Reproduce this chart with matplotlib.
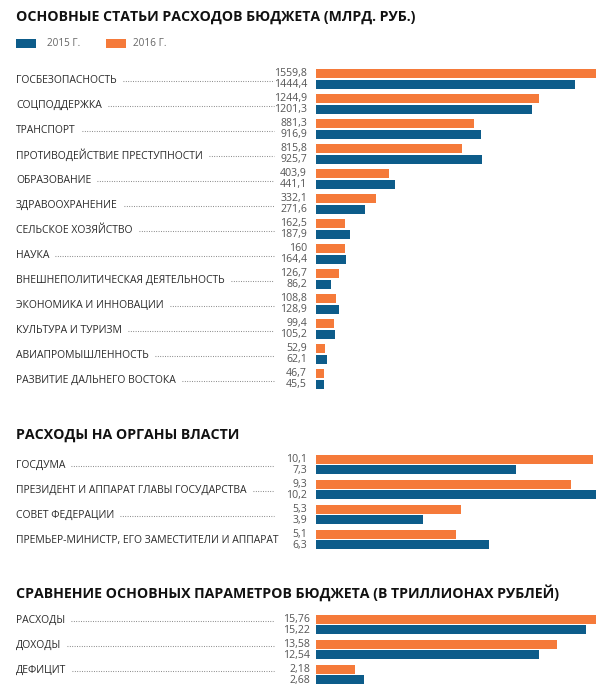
import matplotlib
matplotlib.use("Agg")
import matplotlib.pyplot as plt
import matplotlib.transforms as mtransforms
from matplotlib.lines import Line2D
from matplotlib.patches import Rectangle

W, H = 612, 691
DPI = 100

ORANGE = "#F57A3A"
BLUE = "#0D5C8A"
FONT = "Open Sans"

title1 = "ОСНОВНЫЕ СТАТЬИ РАСХОДОВ БЮДЖЕТА (МЛРД. РУБ.)"
title2 = "РАСХОДЫ НА ОРГАНЫ ВЛАСТИ"
title3 = "СРАВНЕНИЕ ОСНОВНЫХ ПАРАМЕТРОВ БЮДЖЕТА (В ТРИЛЛИОНАХ РУБЛЕЙ)"
legend_labels = ["2015 Г.", "2016 Г."]

cats1 = ["ГОСБЕЗОПАСНОСТЬ", "СОЦПОДДЕРЖКА", "ТРАНСПОРТ", "ПРОТИВОДЕЙСТВИЕ ПРЕСТУПНОСТИ",
         "ОБРАЗОВАНИЕ", "ЗДРАВООХРАНЕНИЕ", "СЕЛЬСКОЕ ХОЗЯЙСТВО", "НАУКА",
         "ВНЕШНЕПОЛИТИЧЕСКАЯ ДЕЯТЕЛЬНОСТЬ", "ЭКОНОМИКА И ИННОВАЦИИ", "КУЛЬТУРА И ТУРИЗМ",
         "АВИАПРОМЫШЛЕННОСТЬ", "РАЗВИТИЕ ДАЛЬНЕГО ВОСТОКА"]
v2016_1 = [1559.8, 1244.9, 881.3, 815.8, 403.9, 332.1, 162.5, 160, 126.7, 108.8, 99.4, 52.9, 46.7]
v2015_1 = [1444.4, 1201.3, 916.9, 925.7, 441.1, 271.6, 187.9, 164.4, 86.2, 128.9, 105.2, 62.1, 45.5]

cats2 = ["ГОСДУМА", "ПРЕЗИДЕНТ И АППАРАТ ГЛАВЫ ГОСУДАРСТВА", "СОВЕТ ФЕДЕРАЦИИ",
         "ПРЕМЬЕР-МИНИСТР, ЕГО ЗАМЕСТИТЕЛИ И АППАРАТ"]
v2016_2 = [10.1, 9.3, 5.3, 5.1]
v2015_2 = [7.3, 10.2, 3.9, 6.3]

cats3 = ["РАСХОДЫ", "ДОХОДЫ", "ДЕФИЦИТ"]
v2016_3 = [15.76, 13.58, 2.18]
v2015_3 = [15.22, 12.54, 2.68]

fig = plt.figure(figsize=(W / DPI, H / DPI), dpi=DPI)
fig.patch.set_facecolor("white")


def fx(px):
    return px / W


def fy(py):
    return 1 - py / H


def fmt(v):
    return f"{v:g}".replace(".", ",")


# titles
for txt, yy in [(title1, 17), (title2, 435.5), (title3, 593)]:
    fig.text(fx(16), fy(yy), txt, fontfamily=FONT, fontweight="bold", fontsize=10.2,
             color="#111111", va="center", ha="left")

# legend
fig.patches.append(Rectangle((fx(16), fy(48)), 20 / W, 9 / H, transform=fig.transFigure,
                             facecolor=BLUE, edgecolor="none"))
fig.text(fx(47), fy(44), legend_labels[0], fontfamily=FONT, fontsize=7.2, color="#666666",
         va="center", ha="left")
fig.patches.append(Rectangle((fx(106), fy(48)), 20 / W, 9 / H, transform=fig.transFigure,
                             facecolor=ORANGE, edgecolor="none"))
fig.text(fx(133), fy(44), legend_labels[1], fontfamily=FONT, fontsize=7.2, color="#666666",
         va="center", ha="left")

sections = [
    (cats1, v2016_1, v2015_1, 79, 307, 1.5),
    (cats2, v2016_2, v2015_2, 464.5, 307, 0.5),
    (cats3, v2016_3, v2015_3, 624.5, 310, -4.0),
]

ROW = 25.0
labels_for_dots = []

for cats, a16, a15, c0, vx, loff in sections:
    n = len(cats)
    top = c0 - ROW / 2
    bottom = c0 + (n - 1) * ROW + ROW / 2
    ax = fig.add_axes([fx(316), fy(bottom), 280 / W, (bottom - top) / H])
    ax.set_xlim(0, max(max(a16), max(a15)))
    ax.set_ylim(n - 0.5, -0.5)
    ax.axis("off")
    ys = list(range(n))
    off = 0.215
    h = 0.36
    ax.barh([y - off for y in ys], a16, height=h, color=ORANGE, edgecolor="none")
    ax.barh([y + off for y in ys], a15, height=h, color=BLUE, edgecolor="none")
    trans = mtransforms.blended_transform_factory(fig.transFigure, ax.transData)
    for i, (c, o, b) in enumerate(zip(cats, a16, a15)):
        ax.text(fx(vx), i - off, fmt(o), transform=trans, ha="right", va="center",
                fontfamily=FONT, fontsize=7.6, color="#555555")
        ax.text(fx(vx), i + off + 0.02, fmt(b), transform=trans, ha="right", va="center",
                fontfamily=FONT, fontsize=7.6, color="#555555")
        yc = c0 + i * ROW + loff
        t = fig.text(fx(16), fy(yc), c, fontfamily=FONT, fontsize=7.45, color="#2a2a2a",
                     va="center", ha="left")
        labels_for_dots.append((t, yc))

fig.canvas.draw()
for t, yc in labels_for_dots:
    bb = t.get_window_extent()
    x0 = bb.x1 + 6
    x1 = 274
    if x1 - x0 > 4:
        fig.lines.append(Line2D([fx(x0), fx(x1)], [fy(yc + 0.5), fy(yc + 0.5)],
                                transform=fig.transFigure, color="#7a7a7a",
                                linewidth=0.75, linestyle=(0, (0.8, 1.5))))

fig.savefig("out.png", dpi=DPI, facecolor="white")
